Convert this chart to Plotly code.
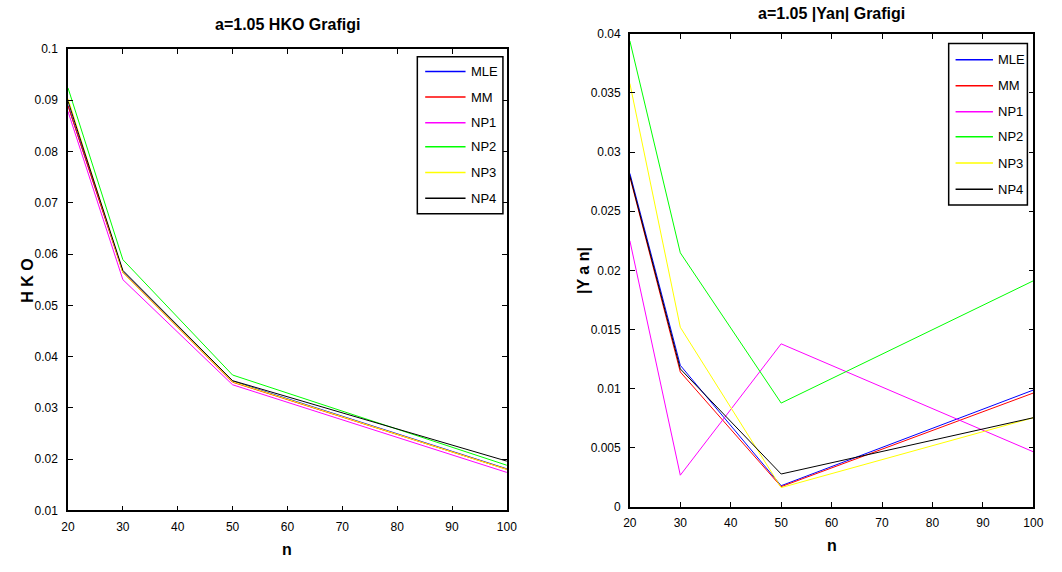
import plotly.graph_objects as go

# Sample sizes
n_values = [20, 30, 50, 100]

# HKO values for each estimator
hko_mle = [0.0890, 0.0566, 0.0352, 0.0181]
hko_mm = [0.0889, 0.0564, 0.0350, 0.0180]
hko_np1 = [0.0878, 0.0550, 0.0345, 0.0174]
hko_np2 = [0.0924, 0.0589, 0.0364, 0.0188]
hko_np3 = [0.0903, 0.0564, 0.0351, 0.0180]
hko_np4 = [0.0898, 0.0568, 0.0353, 0.0196]

# |Yan| values for each estimator
yan_mle = [0.0282, 0.01196, 0.00178, 0.00987]
yan_mm = [0.0279, 0.0114, 0.00170, 0.00962]
yan_np1 = [0.0225, 0.00267, 0.01378, 0.00465]
yan_np2 = [0.0394, 0.02148, 0.00877, 0.01911]
yan_np3 = [0.0358, 0.01518, 0.00162, 0.00753]
yan_np4 = [0.0280, 0.01166, 0.00277, 0.00753]

series_names = ["MLE", "MM", "NP1", "NP2", "NP3", "NP4"]
series_colors = ["#0000ff", "#ff0000", "#ff00ff", "#00ff00", "#ffff00", "#000000"]
hko_series = [hko_mle, hko_mm, hko_np1, hko_np2, hko_np3, hko_np4]
yan_series = [yan_mle, yan_mm, yan_np1, yan_np2, yan_np3, yan_np4]

x_ticks = [20, 30, 40, 50, 60, 70, 80, 90, 100]
hko_ticks = [0.01, 0.02, 0.03, 0.04, 0.05, 0.06, 0.07, 0.08, 0.09, 0.1]
hko_tick_text = ["0.01", "0.02", "0.03", "0.04", "0.05", "0.06", "0.07", "0.08", "0.09", "0.1"]
yan_ticks = [0, 0.005, 0.01, 0.015, 0.02, 0.025, 0.03, 0.035, 0.04]
yan_tick_text = ["0", "0.005", "0.01", "0.015", "0.02", "0.025", "0.03", "0.035", "0.04"]

W, H = 1062, 572
FONT = "Liberation Sans Narrow, Arial Narrow, Liberation Sans, Arial, sans-serif"


def px(x):
    return x / W


def py(y):
    return 1 - y / H


fig = go.Figure()

for name, color, vals in zip(series_names, series_colors, hko_series):
    fig.add_trace(go.Scatter(x=n_values, y=vals, mode="lines", name=name,
                             line=dict(color=color, width=1),
                             xaxis="x", yaxis="y", showlegend=False))
for name, color, vals in zip(series_names, series_colors, yan_series):
    fig.add_trace(go.Scatter(x=n_values, y=vals, mode="lines", name=name,
                             line=dict(color=color, width=1),
                             xaxis="x2", yaxis="y2", showlegend=False))

axis_common = dict(showline=True, linecolor="black", linewidth=1.5, mirror="ticks",
                   ticks="inside", ticklen=5, tickcolor="black", tickwidth=1,
                   showgrid=False, zeroline=False,
                   tickfont=dict(family=FONT, size=12, color="black"))

left_dom_x = [px(62), px(508)]
left_dom_y = [py(516), py(43)]
right_dom_x = [px(633), px(1043)]
right_dom_y = [py(512.3), py(27.5)]

fig.update_layout(
    width=W, height=H,
    margin=dict(l=0, r=0, t=0, b=0),
    paper_bgcolor="white", plot_bgcolor="white",
    xaxis=dict(domain=left_dom_x, range=[20, 100], tickvals=x_ticks, anchor="y",
               ticklabelstandoff=4, **axis_common),
    yaxis=dict(domain=left_dom_y, range=[0.01, 0.1], tickvals=hko_ticks, ticktext=hko_tick_text,
               anchor="x", ticklabelstandoff=6, **axis_common),
    xaxis2=dict(domain=right_dom_x, range=[20, 100], tickvals=x_ticks, anchor="y2",
                ticklabelstandoff=4, **axis_common),
    yaxis2=dict(domain=right_dom_y, range=[0, 0.04], tickvals=yan_ticks, ticktext=yan_tick_text,
                anchor="x2", ticklabelstandoff=5, **axis_common),
)

annotations = []
shapes = []

# Titles and axis labels
title_font = dict(family=FONT, size=16, color="black")
label_font = dict(family=FONT, size=16, color="black")
annotations += [
    dict(text="<b>a=1.05 HKO Grafigi</b>", x=px(285), y=py(18), xref="paper", yref="paper",
         showarrow=False, font=title_font, xanchor="center", yanchor="middle"),
    dict(text="<b>a=1.05 |Yan| Grafigi</b>", x=px(838), y=py(7), xref="paper", yref="paper",
         showarrow=False, font=title_font, xanchor="center", yanchor="middle"),
    dict(text="<b>n</b>", x=px(285), y=py(556), xref="paper", yref="paper",
         showarrow=False, font=label_font, xanchor="center", yanchor="middle"),
    dict(text="<b>n</b>", x=px(838), y=py(552), xref="paper", yref="paper",
         showarrow=False, font=label_font, xanchor="center", yanchor="middle"),
    dict(text="<b>H K O</b>", x=px(20), y=py(281), xref="paper", yref="paper", textangle=-90,
         showarrow=False, font=label_font, xanchor="center", yanchor="middle"),
    dict(text="<b>|Y a n|</b>", x=px(586), y=py(270), xref="paper", yref="paper", textangle=-90,
         showarrow=False, font=label_font, xanchor="center", yanchor="middle"),
]


def add_legend(box, line_x0, line_x1, text_x, row_y):
    x0, x1, y0, y1 = box
    shapes.append(dict(type="rect", xref="paper", yref="paper",
                       x0=px(x0), x1=px(x1), y0=py(y1), y1=py(y0),
                       line=dict(color="black", width=1.5), fillcolor="white", layer="above"))
    for i, (name, color) in enumerate(zip(series_names, series_colors)):
        yy = row_y[i]
        shapes.append(dict(type="line", xref="paper", yref="paper",
                           x0=px(line_x0), x1=px(line_x1), y0=py(yy), y1=py(yy),
                           line=dict(color=color, width=1.5), layer="above"))
        annotations.append(dict(text=name, x=px(text_x), y=py(yy), xref="paper", yref="paper",
                                showarrow=False, xanchor="left", yanchor="middle",
                                font=dict(family=FONT, size=13, color="black")))


add_legend((417, 504, 51, 212), 425, 466, 470, [66, 92.3, 118.7, 143.3, 169.7, 196])
add_legend((957, 1037, 37.3, 203), 964, 1002, 1005, [54, 80.7, 107.3, 133, 160, 186.7])

fig.update_layout(annotations=annotations, shapes=shapes)

fig.write_html("out.html")
